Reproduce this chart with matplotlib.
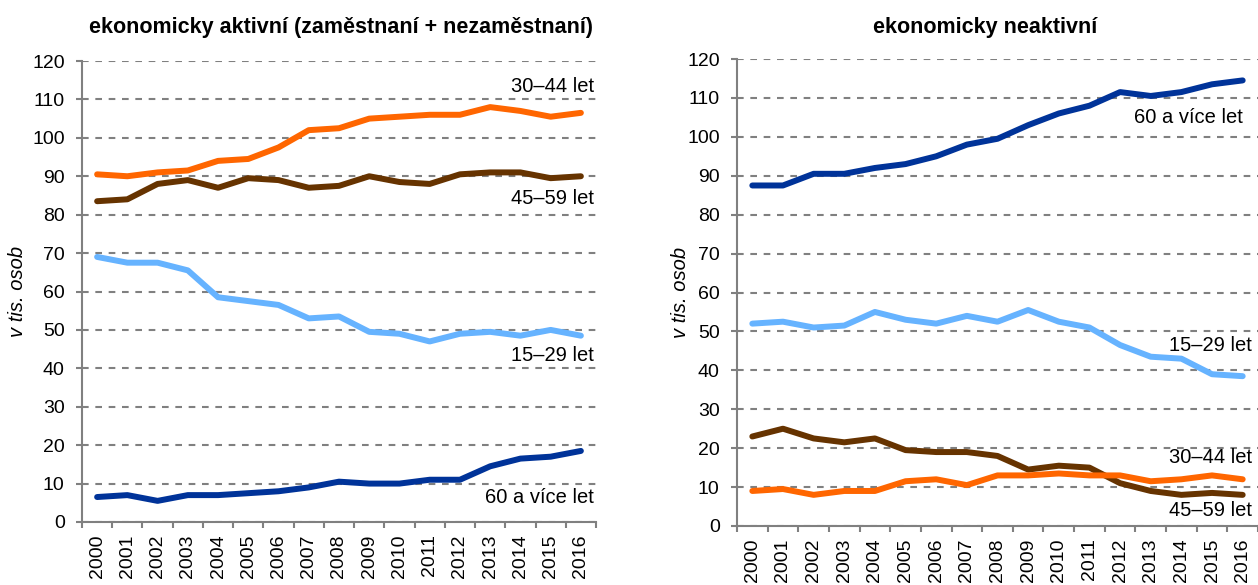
import numpy as np
import matplotlib.pyplot as plt

plt.rcParams['font.family'] = ['Liberation Sans', 'DejaVu Sans']

roky = [str(r) for r in range(2000, 2017)]

# ekonomicky aktivni (tis. osob)
akt_30_44 = [90.5, 90, 91, 91.5, 94, 94.5, 97.5, 102, 102.5, 105, 105.5, 106, 106, 108, 107, 105.5, 106.5]
akt_45_59 = [83.5, 84, 88, 89, 87, 89.5, 89, 87, 87.5, 90, 88.5, 88, 90.5, 91, 91, 89.5, 90]
akt_15_29 = [69, 67.5, 67.5, 65.5, 58.5, 57.5, 56.5, 53, 53.5, 49.5, 49, 47, 49, 49.5, 48.5, 50, 48.5]
akt_60 = [6.5, 7, 5.5, 7, 7, 7.5, 8, 9, 10.5, 10, 10, 11, 11, 14.5, 16.5, 17, 18.5]

# ekonomicky neaktivni (tis. osob)
neakt_60 = [87.5, 87.5, 90.5, 90.5, 92, 93, 95, 98, 99.5, 103, 106, 108, 111.5, 110.5, 111.5, 113.5, 114.5]
neakt_15_29 = [52, 52.5, 51, 51.5, 55, 53, 52, 54, 52.5, 55.5, 52.5, 51, 46.5, 43.5, 43, 39, 38.5]
neakt_45_59 = [23, 25, 22.5, 21.5, 22.5, 19.5, 19, 19, 18, 14.5, 15.5, 15, 11, 9, 8, 8.5, 8]
neakt_30_44 = [9, 9.5, 8, 9, 9, 11.5, 12, 10.5, 13, 13, 13.5, 13, 13, 11.5, 12, 13, 12]

c_oranz = '#FF6600'
c_hneda = '#663300'
c_svmodra = '#66B3FF'
c_tmmodra = '#003399'
seda = '#808080'

x = np.arange(len(roky))
fs = 14.5

fig = plt.figure(figsize=(12.58, 5.85), dpi=100)
ax1 = fig.add_axes([82/1258, 1-522/585, (596-82)/1258, (522-61)/585])
ax2 = fig.add_axes([737/1258, 1-526/585, (1258-737)/1258, (526-59)/585])

def uprav(ax):
    ax.set_xlim(-0.5, len(roky)-0.5)
    ax.set_ylim(0, 120)
    ax.set_yticks(np.arange(0, 121, 10))
    ax.set_xticks(x)
    ax.set_xticklabels(roky, rotation=90)
    ax.set_xticks(np.arange(-0.5, len(roky)), minor=True)
    ax.tick_params(axis='x', which='major', length=0, labelsize=14, pad=9)
    ax.tick_params(axis='x', which='minor', length=4.5, color=seda, width=1.5)
    ax.tick_params(axis='y', length=4.5, color=seda, width=1.5, labelsize=14, pad=8)
    for s in ['top', 'right']:
        ax.spines[s].set_visible(False)
    for s in ['left', 'bottom']:
        ax.spines[s].set_color(seda)
        ax.spines[s].set_linewidth(1.5)
    ax.grid(axis='y', color=seda, linestyle=(0, (3.2, 3.2)), linewidth=1.5)
    ax.set_axisbelow(True)
    ax.set_ylabel('v tis. osob', fontsize=fs, style='italic')

lw = 4.3
ax1.plot(x, akt_30_44, color=c_oranz, lw=lw, solid_capstyle='round')
ax1.plot(x, akt_45_59, color=c_hneda, lw=lw, solid_capstyle='round')
ax1.plot(x, akt_15_29, color=c_svmodra, lw=lw, solid_capstyle='round')
ax1.plot(x, akt_60, color=c_tmmodra, lw=lw, solid_capstyle='round')
uprav(ax1)
ax1.yaxis.set_label_coords(-0.107, 0.5)
ax1.text(16.43, 113.3, '30–44 let', ha='right', va='center', fontsize=fs)
ax1.text(16.43, 84.3, '45–59 let', ha='right', va='center', fontsize=fs)
ax1.text(16.43, 43.3, '15–29 let', ha='right', va='center', fontsize=fs)
ax1.text(16.43, 6.5, '60 a více let', ha='right', va='center', fontsize=fs)

ax2.plot(x, neakt_60, color=c_tmmodra, lw=lw, solid_capstyle='round')
ax2.plot(x, neakt_15_29, color=c_svmodra, lw=lw, solid_capstyle='round')
ax2.plot(x, neakt_45_59, color=c_hneda, lw=lw, solid_capstyle='round')
ax2.plot(x, neakt_30_44, color=c_oranz, lw=lw, solid_capstyle='round')
uprav(ax2)
ax2.yaxis.set_label_coords(-0.09, 0.5)
ax2.text(16.0, 104.9, '60 a více let', ha='right', va='center', fontsize=fs)
ax2.text(16.3, 46.5, '15–29 let', ha='right', va='center', fontsize=fs)
ax2.text(16.3, 17.5, '30–44 let', ha='right', va='center', fontsize=fs)
ax2.text(16.3, 4, '45–59 let', ha='right', va='center', fontsize=fs)

fig.text(341/1258, 1-32.5/585, 'ekonomicky aktivní (zaměstnaní + nezaměstnaní)',
         ha='center', va='baseline', fontsize=15.5, fontweight='bold')
fig.text(985/1258, 1-32.5/585, 'ekonomicky neaktivní',
         ha='center', va='baseline', fontsize=15.5, fontweight='bold')

fig.savefig('out.png', dpi=100)
